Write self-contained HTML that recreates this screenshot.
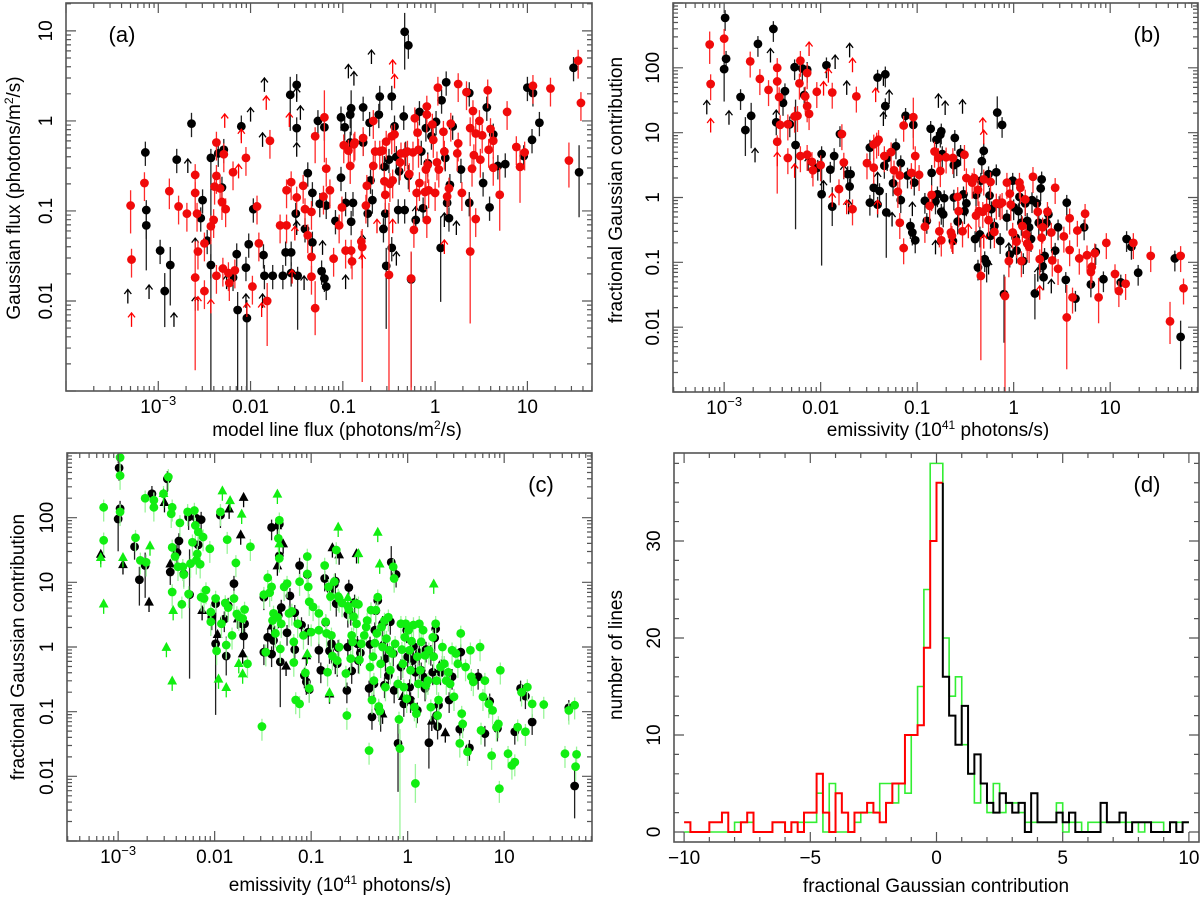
<!DOCTYPE html>
<html><head><meta charset="utf-8"><title>Gaussian contribution plots</title>
<style>
html,body{margin:0;padding:0;background:#fff;}
svg{display:block;font-family:"Liberation Sans",Arial,sans-serif;}
</style></head>
<body>
<svg id="fig" width="1200" height="900" viewBox="0 0 1200 900" xmlns="http://www.w3.org/2000/svg"></svg>
<script>
// ---------- Panel (a): log10 model flux, log10 Gaussian flux, [lx, ly, errDown, errUp] ----------
const aBlackPts = [[-3.14,-0.35],[-3.13,-0.99,0.67,0.11],[-3.13,-1.16],[-2.98,-1.44],[-2.93,-1.89,0.4,0.2],[-2.87,-1.6,0.45,0.2],[-2.80,-0.43],[-2.64,-0.03],[-2.54,-1.08],[-2.52,-0.88],[-2.47,-1.33],[-2.43,-0.41,2.6,0.1],[-2.43,-1.6],[-2.35,-0.36],[-2.29,-0.32],[-2.31,-0.74],[-2.19,-1.74],[-2.15,-1.48],[-2.14,-2.10,0.9,0.2],[-2.10,-0.06],[-2.05,-1.63],[-2.04,-2.19,0.81,0.2],[-2.02,-1.37],[-1.97,-0.98],[-1.86,-1.49],[-1.85,-1.72],[-1.76,-1.72],[-1.65,-1.72],[-1.62,-1.46],[-1.57,0.29,0.4,0.2],[-1.56,-1.46],[-1.56,-1.69],[-1.50,0.40],[-1.50,-0.08],[-1.51,-1.03],[-1.49,-1.72,0.6,0.1],[-1.41,-1.2],[-1.38,-0.58],[-1.33,-1.35],[-1.33,-0.80],[-1.27,0],[-1.25,-0.92],[-1.23,-1.67],[-1.20,-0.07],[-1.18,-1.84],[-1.2,-1.75],[-1.18,-0.94],[-1.08,-1.11],[-1.02,0.04],[-1.02,-0.63],[-0.98,-0.07],[-0.97,-0.91],[-0.92,0.07],[-0.91,0.14,0.3,0.2],[-0.91,-1.12],[-0.89,-0.91],[-0.92,-0.24],[-0.78,0.15],[-0.78,-0.24],[-0.73,-1.03],[-0.71,-0.02],[-0.70,-0.66],[-0.68,-0.88],[-0.60,0.27],[-0.61,0.07],[-0.56,-1.2],[-0.55,-0.51],[-0.54,-1.03],[-0.53,-1.61,0.7,0.2],[-0.5,-0.43],[-0.47,0.27],[-0.47,-1.41],[-0.44,-0.06],[-0.42,-0.40],[-0.40,-0.99],[-0.39,-0.56],[-0.34,0.05],[-0.33,0.99,0.42,0.21],[-0.29,0.84],[-0.33,-0.99],[-0.32,-0.35],[-0.29,-0.61],[-0.26,-1.76,1.2,0.3],[-0.21,-1.10],[-0.17,0.10],[-0.15,-0.34],[-0.13,-0.97],[-0.10,-0.08],[-0.08,-0.47],[-0.04,-0.17],[0.01,-0.01],[0.06,-1.41,0.6,0.35],[0.07,0.23],[0.11,-0.41],[0.12,0.43],[0.13,-0.91],[0.15,-1.08],[0.16,-0.71],[0.19,-0.06],[0.28,-0.54],[0.37,0.31],[0.37,-0.91],[0.52,-0.69],[0.56,0.15],[0.59,-0.96],[0.63,-0.15],[0.68,-0.5],[0.76,-0.48],[0.96,-0.39],[1.0,0.37],[1.06,0.31],[1.05,-0.21],[1.13,-0.02],[1.5,0.59],[1.56,-0.57,0.5,0.3]];
const aBlackLimits = [[-3.33,-1.95],[-3.10,-1.90],[-2.83,-2.21],[-2.68,-0.5],[-1.85,0.40],[-2.0,0.07],[-1.87,-0.21],[-2.26,-1.79],[-1.50,0.29],[-1.46,0.09],[-1.5,-0.32],[-1.5,-1.19],[-1.42,-1.80],[-1.22,-1.41],[-0.97,-1.79],[-0.94,0.55],[-0.88,0.47],[-0.69,0.71],[-0.42,-1.53],[-0.21,-1.03],[0.10,-1.1],[0.23,-1.19],[-2.60,-1.38],[-2.60,-2.03],[-1.87,-2.0],[-0.79,-1.34],[-2.05,-2.0]];
const aRedPts = [[-3.30,-0.94,0.31,0.17],[-3.29,-1.54],[-3.15,-0.69],[-2.88,-0.78,0.2,0.14],[-2.78,-0.95],[-2.69,-1.03],[-2.60,-0.60],[-2.60,-0.80],[-2.60,-1.74,1.03,0.4],[-2.58,-1.03],[-2.57,-1.45],[-2.50,-1.89],[-2.50,-1.36],[-2.43,-1.17],[-2.40,-1.10],[-2.39,-0.73],[-2.37,-0.24],[-2.37,-0.61],[-2.37,-1.72],[-2.33,-0.75],[-2.31,-0.90],[-2.30,-1.64],[-2.29,-0.37],[-2.27,-0.98],[-2.24,-1.69],[-2.23,-1.80],[-2.19,-0.57],[-2.17,-1.66],[-2.05,-0.41],[-1.98,-1.84],[-1.93,-0.95],[-1.91,-1.36],[-1.82,-2.0,0.5,0.2],[-1.79,-0.22],[-1.68,-1.16],[-1.61,-1.16],[-1.61,-0.77],[-1.56,-0.68],[-1.50,-0.85],[-1.43,-0.72],[-1.41,-0.98],[-1.38,-1.27],[-1.34,-1.01],[-1.34,-1.51],[-1.34,-1.73],[-1.30,-0.17,0.3,0.1],[-1.30,-2.08,0.3,0.3],[-1.20,0.04,0.5,0.3],[-1.21,-0.84],[-1.18,-0.53],[-1.14,-0.77],[-1.10,-1.53],[-1.04,-1.16],[-1.01,-0.96],[-0.99,-0.27],[-0.97,-1.44],[-0.94,-0.33],[-0.92,-0.50],[-0.91,-1.44],[-0.90,-1.56],[-0.88,-0.26],[-0.87,-0.24],[-0.80,-1.34],[-0.79,-1.40,1.5,0.2],[-0.78,-0.19],[-0.75,-0.94],[-0.74,-0.72],[-0.67,0.00],[-0.67,-0.50],[-0.65,-0.34],[-0.60,-0.34],[-0.57,-0.33],[-0.55,-0.67],[-0.54,-0.82],[-0.53,-0.23],[-0.50,-1.71,1.3,0.8],[-0.49,-0.70],[-0.47,-0.17],[-0.46,-0.66],[-0.44,-0.15],[-0.38,-0.46],[-0.37,-0.36],[-0.33,-0.36],[-0.30,-0.34],[-0.28,-0.59],[-0.26,-1.75,1.25,0.3],[-0.24,-0.35],[-0.23,-1.21],[-0.22,0.03],[-0.20,-0.80],[-0.19,-0.13],[-0.18,-0.32],[-0.17,-0.69],[-0.11,-0.79],[-0.10,-0.54],[-0.09,0.16],[-0.09,0.07],[-0.09,-1.10],[-0.08,-0.49],[-0.07,-0.77],[-0.03,-0.04],[-0.02,-0.21],[0.00,-0.80],[0.02,-0.46],[0.03,0.37],[0.04,-0.54],[0.09,-0.12],[0.10,-0.34],[0.13,-0.84],[0.15,-0.75],[0.17,-0.03],[0.24,-0.36],[0.25,-0.25],[0.25,0.41],[0.29,-0.80],[0.34,0.32],[0.38,-0.08],[0.38,-1.45,0.8,0.6],[0.40,-0.53],[0.41,0.11],[0.42,-0.38],[0.44,-0.14],[0.44,-1.09],[0.48,0.00],[0.49,-0.43],[0.51,-0.16],[0.57,0.34],[0.58,-0.32],[0.60,-0.09],[0.63,-0.52],[0.63,-0.22],[0.70,-0.82,0.4,0.3],[0.78,0.10],[0.88,-0.29],[0.92,-0.51,0.4,0.2],[0.97,-0.35],[1.06,0.39],[1.25,0.36],[1.45,-0.44,0.3,0.2],[1.55,0.67],[1.58,0.20]];
const aRedLimits = [[-3.29,-2.21],[-2.57,-2.03],[-2.43,-2.06],[-2.28,0],[-2.10,-0.17],[-2.13,-0.56],[-2.04,-2.1],[-1.88,-2.1],[-1.83,0.2],[-1.58,0.01],[-1.55,-1.73],[-1.52,-1.25],[-0.79,-1.56],[-0.63,-1.17],[-0.46,0.6],[-0.44,0.44],[-0.46,-1.17],[0.10,-1.4]];
const aXTickValues = [-3,-2,-1,0,1];
const aXTickLabels = ['10|-3','0.01','0.1','1','10'];
const aYTickValues = [-2,-1,0,1];
const aYTickLabels = ['0.01','0.1','1','10'];

// ---------- Panel (b) / (c): log10 emissivity, log10 fractional contribution ----------
const bBlackPts = [[-2.99,2.77],[-2.98,2.14],[-3.0,1.98,0.5,0.2],[-2.83,1.55],[-2.78,1.04,0.4,0.2],[-2.72,1.26,0.5,0.2],[-2.65,2.37],[-2.49,2.60],[-2.46,1.16],[-2.39,1.46],[-2.37,1.64],[-2.32,1.13],[-2.27,2.01],[-2.26,0.81,1.3,0.7],[-2.19,1.99],[-2.14,1.97],[-2.17,1.58],[-2.03,0.46],[-1.99,0.67],[-1.99,0.05,1.1,0.6],[-1.94,2.04],[-1.90,0.43],[-1.88,-0.14,0.3,0.3],[-1.86,0.64],[-1.80,0.98],[-1.72,0.36],[-1.70,0.17],[-1.69,0.36],[-1.49,0.77],[-1.49,-0.08],[-1.45,0.15],[-1.41,1.85],[-1.41,-0.11],[-1.39,0.10],[-1.34,0.49],[-1.33,1.90],[-1.33,1.41],[-1.32,-0.23,0.7,0.3],[-1.31,0.61],[-1.25,0.22],[-1.22,0.79],[-1.17,-0.04],[-1.17,0.53],[-1.12,1.26],[-1.10,0.34],[-1.07,-0.44],[-1.05,-0.54],[-1.04,1.12],[-1.03,0.23],[-1.02,-0.66],[-0.92,-0.05],[-0.90,-0.36],[-0.86,1.06],[-0.85,0.38],[-0.81,-0.06],[-0.80,0.89],[-0.79,0.05],[-0.76,0.97],[-0.75,1.02],[-0.75,-0.22],[-0.74,0.67],[-0.73,-0.26],[-0.72,-0.01],[-0.63,-0.67],[-0.62,0.0],[-0.61,0.92],[-0.62,0.50],[-0.59,0.53],[-0.58,-0.37],[-0.55,0.69],[-0.52,0.05],[-0.51,-0.21],[-0.49,-0.09],[-0.40,-0.64],[-0.39,0.04],[-0.37,-1.08],[-0.35,-0.57],[-0.34,0.26],[-0.33,0.56],[-0.31,0.72],[-0.30,-0.95],[-0.28,-1.01,0.3,0.1],[-0.26,0.36],[-0.25,0.03],[-0.24,-0.59],[-0.23,-0.18],[-0.20,-0.44],[-0.18,0.39],[-0.17,1.31,0.25,0.25],[-0.15,-0.10],[-0.14,-0.67],[-0.12,1.12],[-0.10,-1.49,0.75,0.3],[-0.07,-0.31],[-0.04,-0.88],[-0.01,0.26],[0.0,-0.15],[0.02,-0.62],[0.03,-0.82],[0.05,-0.21],[0.06,0.01],[0.08,-0.39],[0.10,-0.98],[0.12,-0.09],[0.14,-0.36],[0.16,-0.46],[0.18,-0.64],[0.19,-0.04],[0.22,-1.48,0.4,0.3],[0.24,-0.09],[0.26,-0.39],[0.28,0.14],[0.29,0.28],[0.30,-1.06],[0.31,-1.23],[0.32,-0.90],[0.34,-0.39],[0.36,-0.26],[0.43,-0.82],[0.46,-0.46],[0.54,-1.27],[0.55,-0.08],[0.64,-1.56],[0.73,-0.46],[0.80,-1.34],[0.85,-0.84],[0.93,-1.26],[1.11,-1.31],[1.17,-0.64],[1.22,-0.76],[1.29,-1.16],[1.67,-0.94],[1.73,-2.15,0.5,0.25]];
const bBlackLimits = [[-3.18,1.39],[-2.95,1.23],[-2.68,0.65],[-2.52,2.19],[-2.46,1.24],[-1.85,2.09],[-1.73,1.69],[-1.70,2.27],[-1.29,1.55],[-1.35,1.83],[-1.35,1.21],[-2.13,0.52],[-1.97,0.15],[-1.76,0.39],[-1.71,-0.15],[-1.26,-0.34],[-1.05,-0.18],[-0.81,-0.77],[-0.78,1.49],[-0.71,1.38],[-0.53,1.40],[-0.26,-1.08],[-0.05,-0.81],[0.25,-1.19],[0.39,-1.37],[-1.41,0.28]];
const bRedPts = [[-3.15,2.36,0.3,0.2],[-3.14,1.75],[-3.0,2.45],[-2.73,2.10],[-2.63,1.83],[-2.54,1.66],[-2.45,2.0],[-2.45,1.79],[-2.45,0.86,0.8,0.1],[-2.43,1.55],[-2.42,1.12],[-2.34,1.13],[-2.34,0.61],[-2.27,1.25],[-2.24,1.26],[-2.22,1.76],[-2.21,2.11],[-2.21,0.64],[-2.16,1.56],[-2.14,1.41],[-2.14,1.92],[-2.12,1.29],[-2.14,0.66],[-2.09,0.55],[-2.08,0.42],[-2.04,1.63],[-2.00,0.50],[-1.88,1.62],[-1.81,0.13],[-1.78,0.98],[-1.76,0.54],[-1.67,-0.18],[-1.63,1.56],[-1.52,0.53],[-1.45,0.82],[-1.45,0.46],[-1.42,0.85],[-1.40,0.89],[-1.34,0.64],[-1.27,0.70],[-1.24,0.42],[-1.20,0.09],[-1.18,0.34],[-1.18,-0.39],[-1.14,1.11],[-1.14,-0.78],[-1.06,0.38],[-1.04,1.24,0.5,0.3],[-1.02,0.64],[-0.98,0.35],[-0.92,-0.45],[-0.87,-0.13],[-0.85,0.04],[-0.82,0.71],[-0.78,0.61],[-0.77,-0.52],[-0.76,0.41],[-0.75,-0.66],[-0.70,0.62],[-0.65,-0.54],[-0.64,-0.59],[-0.63,0.61],[-0.58,0.01],[-0.57,-0.21],[-0.53,-0.52],[-0.51,0.66],[-0.49,0.30],[-0.43,0.23],[-0.41,0.30],[-0.39,-0.28],[-0.37,0.12],[-0.36,-0.21],[-0.34,-1.21,1.3,0.6],[-0.32,-0.22],[-0.31,0.28],[-0.28,-0.16],[-0.26,-0.35],[-0.24,0.24],[-0.20,-0.53],[-0.18,-0.09],[-0.14,-0.10],[-0.12,-0.08],[-0.09,-1.52,1.5,0.3],[-0.07,0.23],[-0.05,-0.98],[-0.04,0.06],[-0.03,-0.11],[-0.01,-0.54],[0.03,-0.68],[0.06,0.23],[0.07,0.15],[0.08,-0.98],[0.09,-0.44],[0.12,-0.03],[0.13,-0.57],[0.14,-0.71],[0.16,-0.76],[0.20,0.32],[0.25,-0.22],[0.27,-0.95],[0.29,-0.62],[0.30,-0.46],[0.35,-0.22],[0.39,-0.54],[0.40,-0.97],[0.43,0.15],[0.46,-1.10],[0.52,-0.60],[0.55,-1.85,0.8,0.5],[0.58,-0.81],[0.58,-0.32],[0.61,-1.54],[0.66,-0.51],[0.68,-0.94],[0.74,-0.25],[0.76,-0.89],[0.80,-1.15],[0.81,-1.07],[0.84,-0.86],[0.88,-1.54,0.4,0.3],[0.96,-0.70],[1.05,-1.18],[1.09,-1.44],[1.16,-1.33],[1.24,-0.70],[1.42,-0.90],[1.62,-1.91,0.35,0.3],[1.73,-0.90],[1.76,-1.40]];
const bRedLimits = [[-3.14,1.11],[-2.45,0.59],[-2.27,0.41],[-2.12,2.29],[-1.97,1.68],[-1.92,1.88],[-1.88,-0.04],[-1.73,-0.15],[-1.67,2.04],[-1.43,1.58],[-1.41,-0.15],[-0.63,-0.76],[-0.47,-0.52],[-0.32,1.12],[-0.31,0.93],[-0.31,-0.68],[0.27,-1.47]];
const cGreenPts = [[-3.15,2.16],[-3.15,1.65],[-2.98,2.93],[-2.98,2.65],[-2.98,2.09],[-2.82,1.69],[-2.77,1.34],[-2.71,1.31],[-2.72,2.30],[-2.63,2.27],[-2.63,2.16],[-2.53,2.37],[-2.48,2.63],[-2.45,2.06],[-2.44,2.16],[-2.44,1.54],[-2.44,0.85],[-2.41,1.40],[-2.38,1.24],[-2.36,1.92],[-2.34,0.66],[-2.33,1.24],[-2.32,1.12],[-2.28,2.09],[-2.27,0.82],[-2.25,1.29],[-2.23,1.62],[-2.21,2.11],[-2.20,1.88],[-2.19,1.34],[-2.18,1.44],[-2.17,1.78],[-2.15,1.28],[-2.14,0.77],[-2.12,1.70],[-2.11,0.75],[-2.09,0.88],[-2.05,1.52],[-2.04,0.39],[-2.04,0.54],[-1.99,0.75],[-1.98,-0.06],[-1.94,2.09],[-1.93,0.36],[-1.89,0.68],[-1.88,0.03],[-1.87,1.66],[-1.86,0.61],[-1.82,0.18],[-1.80,0.75],[-1.78,1.30],[-1.77,0.51],[-1.75,0.47],[-1.71,0.44],[-1.69,0.58],[-1.66,-0.26],[-1.63,1.55],[-1.51,-1.23],[-1.49,0.81],[-1.47,-0.08],[-1.45,1.07],[-1.43,0.84],[-1.41,0.93],[-1.40,0.41],[-1.39,0.52],[-1.37,0.21],[-1.35,0.46],[-1.34,1.68],[-1.33,1.96],[-1.33,1.37],[-1.32,-0.03],[-1.31,0.36],[-1.28,0.93],[-1.25,0.98],[-1.23,0.52],[-1.20,0.55],[-1.18,0.08],[-1.18,-0.24],[-1.16,-0.82],[-1.14,0.36],[-1.12,-0.88],[-1.12,1.01],[-1.08,0.18],[-1.06,-0.40],[-1.04,1.40],[-1.03,0.93],[-1.04,1.13],[-1.02,0.70],[-1.02,-0.64],[-1.00,0.23],[-0.98,0.62],[-0.92,0.26],[-0.92,0.52],[-0.86,1.26],[-0.85,0.39],[-0.84,0.21],[-0.83,-0.39],[-0.82,0.93],[-0.80,0.78],[-0.79,0.18],[-0.78,-0.14],[-0.76,1.01],[-0.74,1.50],[-0.73,-0.21],[-0.72,0.78],[-0.71,0.00],[-0.71,0.75],[-0.68,0.68],[-0.64,-0.41],[-0.63,-1.06],[-0.62,0.63],[-0.61,0.58],[-0.59,-0.18],[-0.58,0.18],[-0.57,0.08],[-0.56,0.47],[-0.54,0.67],[-0.53,0.36],[-0.51,0.66],[-0.50,-0.20],[-0.48,0.05],[-0.45,0.18],[-0.43,0.31],[-0.42,0.41],[-0.40,-1.60],[-0.39,-0.31],[-0.38,0.57],[-0.37,-0.82],[-0.36,-0.15],[-0.35,-0.52],[-0.34,0.06],[-0.33,0.57],[-0.32,0.21],[-0.31,0.77],[-0.30,-0.92],[-0.29,-0.99],[-0.28,-0.26],[-0.27,0.31],[-0.26,0.0],[-0.24,0.41],[-0.23,-0.62],[-0.22,0.13],[-0.20,0.46],[-0.19,-0.05],[-0.18,-0.36],[-0.16,-0.10],[-0.15,1.24],[-0.14,1.06],[-0.13,0.05],[-0.10,-0.57],[-0.09,-1.12],[-0.08,-1.57,1.4,0.3],[-0.07,0.36],[-0.06,-0.04],[-0.05,-0.26],[-0.04,-0.62],[-0.03,0.15],[-0.02,0.36],[-0.01,-0.80],[0.01,0.26],[0.02,-0.05],[0.03,-0.36],[0.04,0.09],[0.06,0.34],[0.07,-0.93],[0.08,-2.11,0.3,0.3],[0.09,-1.03],[0.10,-0.15],[0.11,-0.57],[0.12,0.36],[0.13,-0.36],[0.14,0.08],[0.16,0.26],[0.18,-0.13],[0.19,-0.59],[0.21,-0.52],[0.22,-0.05],[0.24,-0.93],[0.26,0.15],[0.27,-0.15],[0.29,0.36],[0.30,-0.52],[0.31,-1.06],[0.32,-0.82],[0.34,-0.31],[0.36,0.0],[0.38,-0.26],[0.40,-0.52],[0.42,-0.39],[0.44,-0.57],[0.46,-0.05],[0.48,-0.77],[0.50,-0.10],[0.52,-0.26],[0.54,-1.49],[0.55,0.21],[0.56,-1.03],[0.57,-1.19],[0.60,-0.31],[0.62,-1.62],[0.65,-0.05],[0.66,-0.46],[0.68,-0.54],[0.75,0.0],[0.76,-1.29],[0.78,-0.77],[0.80,-0.52],[0.84,-0.88],[0.87,-1.68],[0.88,-0.98],[0.92,-1.24],[0.94,-1.19],[0.96,-0.36],[0.95,-2.19],[1.04,-1.65],[1.08,-1.83],[1.11,-1.78],[1.14,-1.24],[1.18,-0.70],[1.22,-1.31],[1.24,-0.62],[1.29,-0.88],[1.41,-0.89],[1.63,-1.65],[1.67,-0.98],[1.73,-0.90],[1.74,-1.85],[1.75,-1.66]];
const cGreenLimits = [[-3.18,1.34],[-3.15,0.62],[-2.95,1.34],[-2.67,1.52],[-2.53,2.33],[-2.50,-0.05],[-2.44,-0.57],[-2.43,0.52],[-1.96,-0.54],[-1.92,2.37],[-1.88,-0.67],[-1.84,2.22],[-1.72,2.01],[-1.71,-0.46],[-1.75,-0.30],[-1.35,2.32],[-1.33,1.55],[-1.04,-0.15],[-0.81,-0.75],[-0.72,1.81],[-0.51,1.40],[-0.31,1.73],[-0.29,1.24],[0.27,0.93],[-0.62,0.72]];
const bXTickValues = [-3,-2,-1,0,1];
const bXTickLabels = ['10|-3','0.01','0.1','1','10'];
const bYTickValues = [-2,-1,0,1,2];
const bYTickLabels = ['0.01','0.1','1','10','100'];

// ---------- Panel (d): histograms, bins of 0.25 from -10 ----------
const dBinStart = -10;
const dBinWidth = 0.25;
const dGreenCounts = [0,0,0,0,0,0,0,0,1,1,1,0,0,0,1,1,0,1,1,1,1,4,0,5,0,0,0,1,2,2,2,5,5,3,5,4,10,15,25,38,38,20,14,16,9,6,3,5,2,5,2,3,3,2,1,1,1,1,1,3,0,1,1,0,1,1,1,1,1,1,1,1,0,1,1,1,0,1,1,1];
const dRedCounts = [1,0,0,0,1,1,2,0,0,1,2,0,0,0,1,1,0,1,0,2,2,6,2,0,4,2,0,2,2,3,2,1,3,5,5,10,10,11,19,30,36];
const dBlackCounts = [16,12,9,13,6,8,5,3,2,4,3,2,3,0,4,1,1,1,2,1,2,0,0,0,0,3,1,1,2,0,1,1,1,0,0,0,1,0,1];
const dXTickValues = [-10,-5,0,5,10];
const dXTickLabels = ['\u221210','\u22125','0','5','10'];
const dYTickValues = [0,10,20,30];
const dYTickLabels = ['0','10','20','30'];

const NS = 'http://www.w3.org/2000/svg';
const svg = document.getElementById('fig');
function mk(tag, attrs, parent) {
  const e = document.createElementNS(NS, tag);
  for (const k in attrs) e.setAttribute(k, attrs[k]);
  (parent || svg).appendChild(e);
  return e;
}
function group(name) {
  const g = mk('g', {});
  
  
  return g;
}
function makeScale(p) {
  p.sx = v => p.x0 + (v - p.xmin) / (p.xmax - p.xmin) * (p.x1 - p.x0);
  p.sy = v => p.y1 - (v - p.ymin) / (p.ymax - p.ymin) * (p.y1 - p.y0);
  return p;
}
function tickLabel(g, x, y, lab, rot, name) {
  const t = mk('text', {x: x, y: y, 'font-size': 19, 'text-anchor': 'middle', fill: '#000'}, g);
  if (rot) t.setAttribute('transform', 'rotate(-90 ' + x + ' ' + y + ')');
  if (lab.indexOf('|') >= 0) {
    const parts = lab.split('|');
    t.textContent = parts[0];
    const s = mk('tspan', {dy: -8, 'font-size': 13}, t);
    s.textContent = '\u2212' + parts[1].replace('-', '');
  } else t.textContent = lab;
  
  
}
function drawFrame(p, logMode, xv, xl, yv, yl, xMinorStep, yMinorStep) {
  const g = group(p.name + '-axes');
  const fr = mk('rect', {x: p.x0, y: p.y0, width: p.x1 - p.x0, height: p.y1 - p.y0, fill: 'none', stroke: '#555', 'stroke-width': 1.6}, g);
  
  
  let d = '';
  const xt = [], yt = [];
  if (logMode) {
    for (let dec = Math.floor(p.xmin); dec <= Math.ceil(p.xmax); dec++) {
      for (let k = 1; k <= 9; k++) { const v = dec + Math.log10(k); if (v >= p.xmin && v <= p.xmax) xt.push([v, k === 1]); }
    }
    for (let dec = Math.floor(p.ymin); dec <= Math.ceil(p.ymax); dec++) {
      for (let k = 1; k <= 9; k++) { const v = dec + Math.log10(k); if (v >= p.ymin && v <= p.ymax) yt.push([v, k === 1]); }
    }
  } else {
    for (let v = Math.ceil(p.xmin / xMinorStep) * xMinorStep; v <= p.xmax; v += xMinorStep) xt.push([v, xv.indexOf(v) >= 0]);
    for (let v = Math.ceil(p.ymin / yMinorStep) * yMinorStep; v <= p.ymax; v += yMinorStep) yt.push([v, yv.indexOf(v) >= 0]);
  }
  xt.forEach(([v, maj]) => { const x = p.sx(v), L = maj ? 10 : 5; d += `M${x},${p.y1}v${-L}M${x},${p.y0}v${L}`; });
  yt.forEach(([v, maj]) => { const y = p.sy(v), L = maj ? 10 : 5; d += `M${p.x0},${y}h${L}M${p.x1},${y}h${-L}`; });
  const tk = mk('path', {d: d, stroke: '#555', 'stroke-width': 1.2, fill: 'none'}, g);
  
  
  xv.forEach((v, i) => tickLabel(g, p.sx(v), p.y1 + 22, xl[i], false, p.name + '-x-tick-label'));
  yv.forEach((v, i) => tickLabel(g, p.x0 - 14, p.sy(v), yl[i], true, p.name + '-y-tick-label'));
}
function title(x, y, txt, rot, name, sup) {
  const t = mk('text', {x: x, y: y, 'font-size': 19, 'text-anchor': 'middle', fill: '#000'});
  if (rot) t.setAttribute('transform', 'rotate(-90 ' + x + ' ' + y + ')');
  if (sup) {
    t.appendChild(document.createTextNode(txt[0]));
    const s = mk('tspan', {dy: -7, 'font-size': 12}, t); s.textContent = txt[1];
    const r = mk('tspan', {dy: 7}, t); r.textContent = txt[2];
  } else t.textContent = txt;
  
  
}
function panelLabel(x, y, txt, name) {
  const t = mk('text', {x: x, y: y, 'font-size': 22, 'text-anchor': 'middle', fill: '#000'});
  t.textContent = txt;
  
  
}
function drawPoints(p, pts, color, barColor, name, dnDef, upDef) {
  const g = group(p.name + '-' + name);
  pts.forEach(pt => {
    const [lx, ly] = pt;
    const dn = pt.length > 2 ? pt[2] : dnDef, up = pt.length > 3 ? pt[3] : upDef;
    const x = p.sx(lx), yTop = Math.max(p.sy(ly + up), p.y0), yBot = Math.min(p.sy(ly - dn), p.y1);
    const bar = mk('line', {x1: x, x2: x, y1: yTop, y2: yBot, stroke: barColor, 'stroke-width': 1.3}, g);
    
    
  });
  pts.forEach(pt => {
    const c = mk('circle', {cx: p.sx(pt[0]), cy: p.sy(pt[1]), r: 4.4, fill: color}, g);
    
    
  });
}
function drawLimits(p, lims, color, name, filled) {
  const g = group(p.name + '-' + name);
  lims.forEach(([lx, ly]) => {
    const x = p.sx(lx), y = p.sy(ly);
    let e;
    if (filled) {
      e = mk('path', {d: `M${x},${y + 7}V${y - 1}M${x - 3.8},${y}L${x + 3.8},${y}L${x},${y - 7}Z`, stroke: color, 'stroke-width': 1.3, fill: color}, g);
    } else {
      e = mk('path', {d: `M${x},${y + 7}V${y - 7}M${x - 3.5},${y - 2.5}L${x},${y - 7}L${x + 3.5},${y - 2.5}`, stroke: color, 'stroke-width': 1.3, fill: 'none'}, g);
    }
    
    
  });
}

// Panel (a)
const pa = makeScale({name: 'panel-a', x0: 66, x1: 592, y0: 3, y1: 391, xmin: -4.0, xmax: 1.70, ymin: -3.0, ymax: 1.31});
drawPoints(pa, aBlackPts, '#000', '#222', 'black-points', 0.15, 0.12);
drawLimits(pa, aBlackLimits, '#000', 'black-limits', false);
drawPoints(pa, aRedPts, '#f00a0a', '#ff2a2a', 'red-points', 0.2, 0.12);
drawLimits(pa, aRedLimits, '#f00', 'red-limits', false);
drawFrame(pa, true, aXTickValues, aXTickLabels, aYTickValues, aYTickLabels);
title(337, 436, ['model line flux (photons/m', '2', '/s)'], false, 'panel-a-x-axis-title', true);
title(20, 198, ['Gaussian flux (photons/m', '2', '/s)'], true, 'panel-a-y-axis-title', true);
panelLabel(122, 42, '(a)', 'panel-a-label');

// Panel (b)
const pb = makeScale({name: 'panel-b', x0: 673, x1: 1198, y0: 3, y1: 392, xmin: -3.53, xmax: 1.91, ymin: -3.0, ymax: 3.0});
drawPoints(pb, bBlackPts, '#000', '#222', 'black-points', 0.2, 0.12);
drawLimits(pb, bBlackLimits, '#000', 'black-limits', false);
drawPoints(pb, bRedPts, '#f00a0a', '#ff2a2a', 'red-points', 0.25, 0.15);
drawLimits(pb, bRedLimits, '#f00', 'red-limits', false);
drawFrame(pb, true, bXTickValues, bXTickLabels, bYTickValues, bYTickLabels);
title(938, 436, ['emissivity (10', '41', ' photons/s)'], false, 'panel-b-x-axis-title', true);
title(622, 190, 'fractional Gaussian contribution', true, 'panel-b-y-axis-title', false);
panelLabel(1147, 42, '(b)', 'panel-b-label');

// Panel (c)
const pc = makeScale({name: 'panel-c', x0: 67, x1: 592, y0: 453, y1: 841, xmin: -3.53, xmax: 1.91, ymin: -3.0, ymax: 3.0});
drawPoints(pc, bBlackPts, '#000', '#222', 'black-points', 0.2, 0.12);
drawLimits(pc, bBlackLimits, '#000', 'black-limits', true);
drawPoints(pc, cGreenPts, '#11ee11', '#99f599', 'green-points', 0.22, 0.12);
drawLimits(pc, cGreenLimits, '#11ee11', 'green-limits', true);
drawFrame(pc, true, bXTickValues, bXTickLabels, bYTickValues, bYTickLabels);
title(340, 891, ['emissivity (10', '41', ' photons/s)'], false, 'panel-c-x-axis-title', true);
title(24, 647, 'fractional Gaussian contribution', true, 'panel-c-y-axis-title', false);
panelLabel(541, 492, '(c)', 'panel-c-label');

// Panel (d)
const pd = makeScale({name: 'panel-d', x0: 674, x1: 1199, y0: 453, y1: 842, xmin: -10.4, xmax: 10.4, ymin: -1.03, ymax: 39.07});
function stepPath(counts, startBin, prevLevel) {
  let d = '';
  counts.forEach((c, i) => {
    const xa = pd.sx(dBinStart + (startBin + i) * dBinWidth), xb = pd.sx(dBinStart + (startBin + i + 1) * dBinWidth);
    if (i === 0) d += (prevLevel === null ? `M${xa},${pd.sy(c)}` : `M${xa},${pd.sy(prevLevel)}V${pd.sy(c)}`);
    else d += `V${pd.sy(c)}`;
    d += `H${xb}`;
  });
  return d;
}
const hg = group('panel-d-histograms');
const gh = mk('path', {d: stepPath(dGreenCounts, 0, null), stroke: '#33ee33', 'stroke-width': 1.6, fill: 'none'}, hg);


const rh = mk('path', {d: stepPath(dRedCounts, 0, null), stroke: '#ff0000', 'stroke-width': 2, fill: 'none'}, hg);


const bh = mk('path', {d: stepPath(dBlackCounts, dRedCounts.length, dRedCounts[dRedCounts.length - 1]), stroke: '#000', 'stroke-width': 2, fill: 'none'}, hg);


drawFrame(pd, false, dXTickValues, dXTickLabels, dYTickValues, dYTickLabels, 1, 2);
title(936, 892, 'fractional Gaussian contribution', false, 'panel-d-x-axis-title', false);
title(622, 655, 'number of lines', true, 'panel-d-y-axis-title', false);
panelLabel(1147, 492, '(d)', 'panel-d-label');
</script>
</body></html>
